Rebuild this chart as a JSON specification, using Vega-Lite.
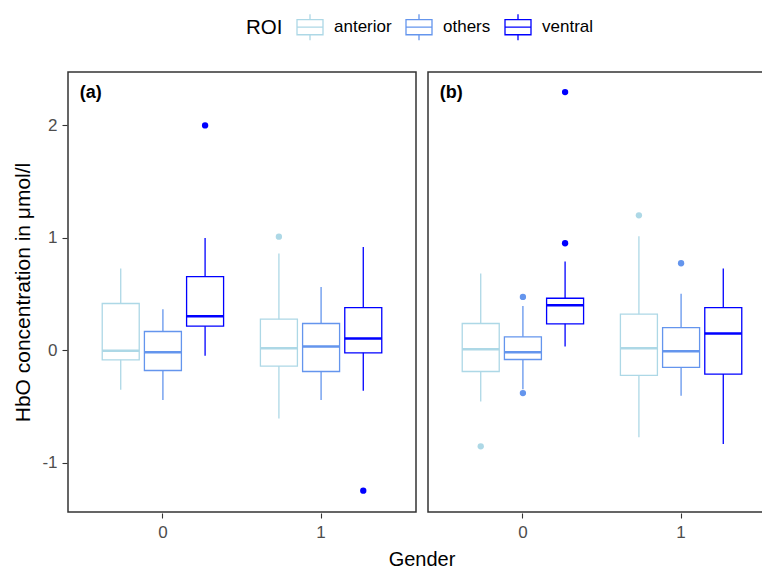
{
  "$schema": "https://vega.github.io/schema/vega-lite/v6.json",
  "padding": {"left": 12, "top": 13, "right": 0, "bottom": 0},
  "background": "white",
  "config": {
    "font": "Liberation Sans",
    "view": {"stroke": "#333333", "strokeWidth": 1.5},
    "axis": {"grid": false, "domain": false, "tickColor": "#333333", "tickSize": 5, "tickWidth": 1.1, "labelColor": "#4d4d4d", "labelFontSize": 17, "labelPadding": 5, "titleColor": "#000000", "titleFontSize": 21, "titleFontWeight": "normal"},
    "header": {"titleFontSize": 20, "titleFontWeight": "normal", "titleColor": "#000000"}
  },
  "data": {
    "values": [
      {"kind": "box", "panel": "(a)", "gender": "0", "roi": "anterior", "lower": -0.353, "q1": -0.086, "median": -0.006, "q3": 0.415, "upper": 0.726},
      {"kind": "box", "panel": "(a)", "gender": "0", "roi": "others", "lower": -0.444, "q1": -0.181, "median": -0.018, "q3": 0.166, "upper": 0.364},
      {"kind": "box", "panel": "(a)", "gender": "0", "roi": "ventral", "lower": -0.05, "q1": 0.213, "median": 0.302, "q3": 0.655, "upper": 0.999},
      {"kind": "box", "panel": "(a)", "gender": "1", "roi": "anterior", "lower": -0.607, "q1": -0.142, "median": 0.018, "q3": 0.276, "upper": 0.859},
      {"kind": "box", "panel": "(a)", "gender": "1", "roi": "others", "lower": -0.444, "q1": -0.19, "median": 0.033, "q3": 0.237, "upper": 0.563},
      {"kind": "box", "panel": "(a)", "gender": "1", "roi": "ventral", "lower": -0.361, "q1": -0.024, "median": 0.104, "q3": 0.379, "upper": 0.919},
      {"kind": "box", "panel": "(b)", "gender": "0", "roi": "anterior", "lower": -0.456, "q1": -0.19, "median": 0.009, "q3": 0.237, "upper": 0.681},
      {"kind": "box", "panel": "(b)", "gender": "0", "roi": "others", "lower": -0.347, "q1": -0.083, "median": -0.018, "q3": 0.119, "upper": 0.394},
      {"kind": "box", "panel": "(b)", "gender": "0", "roi": "ventral", "lower": 0.033, "q1": 0.234, "median": 0.4, "q3": 0.462, "upper": 0.788},
      {"kind": "box", "panel": "(b)", "gender": "1", "roi": "anterior", "lower": -0.776, "q1": -0.225, "median": 0.018, "q3": 0.32, "upper": 1.013},
      {"kind": "box", "panel": "(b)", "gender": "1", "roi": "others", "lower": -0.406, "q1": -0.154, "median": -0.009, "q3": 0.201, "upper": 0.501},
      {"kind": "box", "panel": "(b)", "gender": "1", "roi": "ventral", "lower": -0.836, "q1": -0.213, "median": 0.148, "q3": 0.379, "upper": 0.726},
      {"kind": "outlier", "panel": "(a)", "gender": "0", "roi": "ventral", "value": 2.0},
      {"kind": "outlier", "panel": "(a)", "gender": "1", "roi": "anterior", "value": 1.01},
      {"kind": "outlier", "panel": "(a)", "gender": "1", "roi": "ventral", "value": -1.25},
      {"kind": "outlier", "panel": "(b)", "gender": "0", "roi": "anterior", "value": -0.856},
      {"kind": "outlier", "panel": "(b)", "gender": "0", "roi": "others", "value": 0.474},
      {"kind": "outlier", "panel": "(b)", "gender": "0", "roi": "others", "value": -0.382},
      {"kind": "outlier", "panel": "(b)", "gender": "0", "roi": "ventral", "value": 2.296},
      {"kind": "outlier", "panel": "(b)", "gender": "0", "roi": "ventral", "value": 0.951},
      {"kind": "outlier", "panel": "(b)", "gender": "1", "roi": "anterior", "value": 1.2},
      {"kind": "outlier", "panel": "(b)", "gender": "1", "roi": "others", "value": 0.773},
      {"kind": "label", "panel": "(a)", "gender": "0", "value": 2.29},
      {"kind": "label", "panel": "(b)", "gender": "0", "value": 2.29}
    ]
  },
  "facet": {
    "column": {
      "field": "panel", "type": "nominal", "title": "Gender",
      "header": {"labels": false, "titleOrient": "bottom", "titlePadding": 0}
    }
  },
  "spacing": 10,
  "spec": {
    "width": 348,
    "height": 440,
    "encoding": {
      "x": {"field": "gender", "type": "nominal", "title": null,
        "scale": {"domain": ["0", "1"], "paddingInner": 0.2, "paddingOuter": 0.2},
        "axis": {"labelAngle": 0, "labelPadding": 6}},
      "xOffset": {"field": "roi", "type": "nominal", "scale": {"domain": ["anterior", "others", "ventral"], "paddingInner": 0, "paddingOuter": 0}}
    },
    "layer": [
      {
        "transform": [{"filter": "datum.kind == 'box'"}],
        "mark": {"type": "rule", "strokeWidth": 1.3},
        "encoding": {
          "y": {"field": "lower", "type": "quantitative", "title": "HbO concentration in μmol/l",
            "scale": {"domain": [-1.44, 2.475], "nice": false, "zero": false},
            "axis": {"values": [-1, 0, 1, 2], "labelExpr": "'' + datum.value", "titlePadding": 8}},
          "y2": {"field": "q1"},
          "stroke": {"field": "roi", "type": "nominal",
            "scale": {"domain": ["anterior", "others", "ventral"], "range": ["#ADD8E6", "#6495ED", "#0000FF"]},
            "legend": {"title": "ROI", "orient": "none", "direction": "horizontal", "legendX": 178, "legendY": -59,
              "titleOrient": "left", "titleFontSize": 20.5, "titleFontWeight": "normal", "titleColor": "#000000", "titlePadding": 13,
              "labelFontSize": 17, "labelColor": "#000000", "labelOffset": 10, "columnPadding": 11,
              "symbolType": "M-1,-0.58H1V0.58H-1Z M-1,0H1 M0,-0.58V-1 M0,0.58V1",
              "symbolSize": 676, "symbolStrokeWidth": 1.3, "symbolFillColor": "transparent",
              "encode": {"symbols": {"update": {"fillOpacity": {"value": 0}, "strokeOpacity": {"value": 1}}}}}}
        }
      },
      {
        "transform": [{"filter": "datum.kind == 'box'"}],
        "mark": {"type": "rule", "strokeWidth": 1.3},
        "encoding": {
          "y": {"field": "q3", "type": "quantitative"},
          "y2": {"field": "upper"},
          "stroke": {"field": "roi", "type": "nominal"}
        }
      },
      {
        "transform": [{"filter": "datum.kind == 'box'"}],
        "mark": {"type": "bar", "filled": false, "strokeWidth": 1.3, "size": 37},
        "encoding": {
          "y": {"field": "q1", "type": "quantitative"},
          "y2": {"field": "q3"},
          "stroke": {"field": "roi", "type": "nominal"}
        }
      },
      {
        "transform": [{"filter": "datum.kind == 'box'"}],
        "mark": {"type": "bar", "filled": false, "strokeWidth": 2.5, "size": 37},
        "encoding": {
          "y": {"field": "median", "type": "quantitative"},
          "y2": {"field": "median"},
          "stroke": {"field": "roi", "type": "nominal"}
        }
      },
      {
        "transform": [{"filter": "datum.kind == 'outlier'"}],
        "mark": {"type": "point", "filled": true, "size": 40, "opacity": 1},
        "encoding": {
          "y": {"field": "value", "type": "quantitative"},
          "fill": {"field": "roi", "type": "nominal", "legend": null,
            "scale": {"domain": ["anterior", "others", "ventral"], "range": ["#ADD8E6", "#6495ED", "#0000FF"]}}
        }
      },
      {
        "transform": [{"filter": "datum.kind == 'label'"}],
        "mark": {"type": "text", "align": "left", "baseline": "middle", "dx": -20, "fontWeight": "bold", "fontSize": 18, "color": "#000000"},
        "encoding": {
          "x": {"field": "gender", "type": "nominal", "bandPosition": 0},
          "xOffset": {"value": 0},
          "y": {"field": "value", "type": "quantitative"},
          "text": {"field": "panel"}
        }
      }
    ]
  }
}
